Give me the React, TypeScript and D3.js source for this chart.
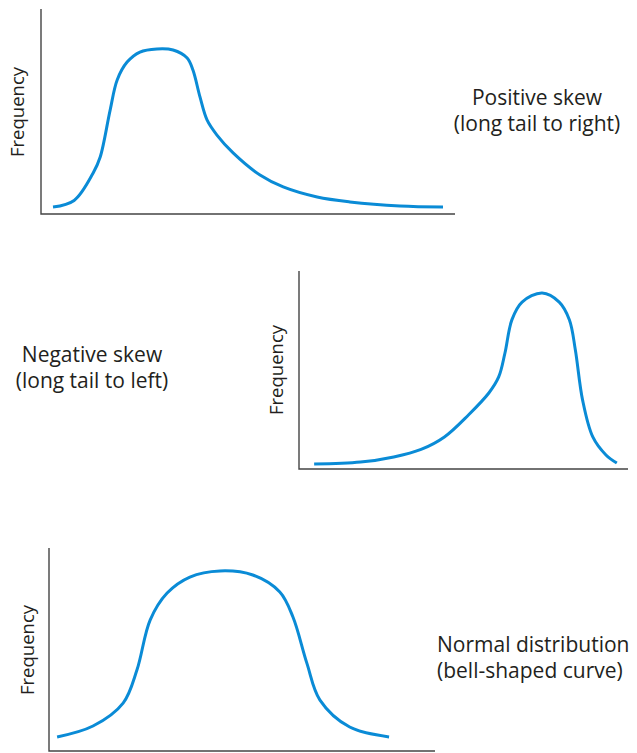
import React from "react";
import * as d3 from "d3";

// Curves: [x, frequency] in 0..100 units within each panel
const positiveSkew: [number, number][] = [
  [2.9, 3.4], [8.0, 6.6], [12.6, 20.0], [14.3, 27.8], [16.7, 50.7], [18.4, 65.4],
  [20.8, 74.1], [23.9, 79.0], [28.0, 80.5], [31.9, 80.0], [35.3, 76.1], [36.7, 70.2],
  [38.4, 57.1], [40.1, 45.9], [42.5, 38.5], [46.4, 29.8], [52.9, 19.0], [58.5, 13.2],
  [66.7, 8.3], [74.6, 5.9], [86.7, 3.9], [97.1, 3.4],
];
const negativeSkew: [number, number][] = [
  [4.6, 2.5], [18.7, 3.5], [28.8, 6.1], [37.1, 9.9], [44.2, 16.2], [51.5, 27.3],
  [57.7, 38.4], [60.7, 46.5], [62.6, 58.6], [64.7, 75.3], [67.8, 84.3], [73.9, 88.9],
  [79.1, 84.3], [82.2, 75.3], [84.0, 60.1], [86.2, 34.8], [89.3, 16.2], [93.3, 7.1],
  [96.6, 3.0],
];
const normalDist: [number, number][] = [
  [2.1, 6.9], [11.4, 12.3], [19.2, 23.6], [22.8, 40.0], [26.2, 64.5], [30.6, 77.8],
  [36.5, 85.7], [44.3, 88.7], [52.8, 86.7], [59.8, 78.3], [63.2, 66.0], [66.8, 43.3],
  [70.2, 25.1], [77.9, 11.8], [88.1, 6.9],
];

const axisLabel = "Frequency";
const positiveLabel = ["Positive skew", "(long tail to right)"];
const negativeLabel = ["Negative skew", "(long tail to left)"];
const normalLabel = ["Normal distribution", "(bell-shaped curve)"];

const FONT = "'Open Sans', 'Noto Sans', sans-serif";
const CURVE = "#0a8bd6";
const AXIS = "#444444";
const TEXT = "#231f20";

type PanelProps = {
  data: [number, number][];
  x0: number; x1: number; y0: number; y1: number;
  labelX: number; labelY: number;
};

function Panel({ data, x0, x1, y0, y1, labelX, labelY }: PanelProps) {
  const x = d3.scaleLinear().domain([0, 100]).range([x0, x1]);
  const y = d3.scaleLinear().domain([0, 100]).range([y0, y1]);
  const line = d3
    .line<[number, number]>()
    .x((d) => x(d[0]))
    .y((d) => y(d[1]))
    .curve(d3.curveCatmullRom.alpha(0.5));
  return (
    <g>
      <path
        d={`M${x0},${y1}V${y0}H${x1}`}
        fill="none"
        stroke={AXIS}
        strokeWidth={1.4}
      />
      <path d={line(data) || ""} fill="none" stroke={CURVE} strokeWidth={3} strokeLinecap="butt" />
      <text
        transform={`translate(${labelX},${labelY}) rotate(-90)`}
        textAnchor="middle"
        fontFamily={FONT}
        fontSize={18.5}
        fill={TEXT}
      >
        {axisLabel}
      </text>
    </g>
  );
}

function Caption({ lines, x, y, anchor }: { lines: string[]; x: number; y: number; anchor: string }) {
  return (
    <g>
      {lines.map((l, i) => (
        <text
          key={i}
          x={x}
          y={y + i * 26}
          fontFamily={FONT}
          fontSize={21}
          fill={TEXT}
          textAnchor={anchor as any}
        >
          {l}
        </text>
      ))}
    </g>
  );
}

export default function App() {
  return (
    <svg
      width={637}
      height={753}
      style={{ position: "absolute", left: 0, top: 0, background: "#fff" }}
    >
      <Panel data={positiveSkew} x0={41} x1={455} y0={214} y1={9} labelX={24} labelY={112} />
      <Panel data={negativeSkew} x0={299} x1={628} y0={469} y1={271} labelX={283} labelY={370} />
      <Panel data={normalDist} x0={49} x1={435} y0={751} y1={548} labelX={34} labelY={650} />
      <Caption lines={positiveLabel} x={537} y={105} anchor="middle" />
      <Caption lines={negativeLabel} x={92} y={362} anchor="middle" />
      <Caption lines={normalLabel} x={437} y={652} anchor="start" />
    </svg>
  );
}
